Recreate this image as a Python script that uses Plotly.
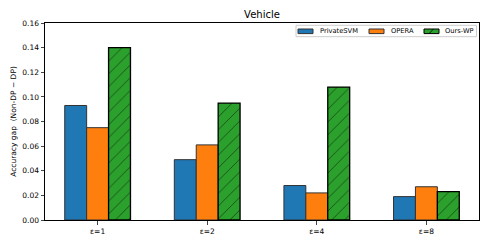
import plotly.graph_objects as go

categories = ["ε=1", "ε=2", "ε=4", "ε=8"]
series_names = ["PrivateSVM", "OPERA", "Ours-WP"]
private_svm = [0.093, 0.049, 0.028, 0.019]
opera = [0.075, 0.061, 0.022, 0.027]
ours_wp = [0.140, 0.095, 0.108, 0.023]
yticks = [0.00, 0.02, 0.04, 0.06, 0.08, 0.10, 0.12, 0.14, 0.16]

colors = ["#1f77b4", "#ff7f0e", "#2ca02c"]

W, H = 488, 244
L, R, T, B = 45, 9, 23, 24
PW, PH = W - L - R, H - T - B


def px(xp):
    return (xp - L) / PW


def py(yp):
    return (H - B - yp) / PH


xs = list(range(len(categories)))
w = 0.2
fig = go.Figure()
fig.add_trace(go.Bar(x=[x - w for x in xs], y=private_svm, width=w, name=series_names[0],
                     marker=dict(color=colors[0], line=dict(color="#333333", width=1))))
fig.add_trace(go.Bar(x=xs, y=opera, width=w, name=series_names[1],
                     marker=dict(color=colors[1], line=dict(color="#333333", width=1))))
fig.add_trace(go.Bar(x=[x + w for x in xs], y=ours_wp, width=w, name=series_names[2],
                     marker=dict(color=colors[2], line=dict(color="black", width=1.3),
                                 pattern=dict(shape="/", fgcolor="black", bgcolor=colors[2],
                                              size=9, solidity=0.1))))

# compact legend (matplotlib style) drawn in paper coordinates
shapes = [dict(type="rect", xref="paper", yref="paper", x0=px(296), x1=px(476.5),
               y0=py(36.7), y1=py(25.3), line=dict(color="#cccccc", width=1),
               fillcolor="white", layer="above")]
annotations = []
patch_x = [298, 369, 424]
text_x = [318, 389, 443]
for i, name in enumerate(series_names):
    shapes.append(dict(type="rect", xref="paper", yref="paper", x0=px(patch_x[i]),
                       x1=px(patch_x[i] + 15), y0=py(33.6), y1=py(29),
                       fillcolor=colors[i],
                       line=dict(color="black" if i == 2 else "#333333", width=1),
                       layer="above"))
    annotations.append(dict(xref="paper", yref="paper", x=px(text_x[i]), y=py(31.4),
                            text=name, showarrow=False, xanchor="left", yanchor="middle",
                            font=dict(size=6.7, color="black")))
shapes.append(dict(type="line", xref="paper", yref="paper", x0=px(429), x1=px(433.5),
                   y0=py(33.6), y1=py(29), line=dict(color="black", width=0.8), layer="above"))

fig.update_layout(
    width=W, height=H,
    margin=dict(l=L, r=R, t=T, b=B),
    paper_bgcolor="white", plot_bgcolor="white",
    barmode="overlay",
    font=dict(family="DejaVu Sans", size=8, color="black"),
    title=dict(text="Vehicle", x=(L + W - R) / 2 / W, xanchor="center", y=1 - 14 / H,
               yanchor="middle", font=dict(size=10)),
    showlegend=False,
    shapes=shapes,
    annotations=annotations,
)
fig.update_xaxes(range=[-0.48, 3.48], tickvals=xs, ticktext=categories,
                 showline=True, linecolor="black", linewidth=1, mirror=True,
                 ticks="outside", ticklen=3.5, showgrid=False, zeroline=False,
                 tickfont=dict(size=7.5))
fig.update_yaxes(range=[0, 0.16], tickvals=yticks, ticktext=[f"{v:.2f}" for v in yticks],
                 showline=True, linecolor="black", linewidth=1, mirror=True,
                 ticks="outside", ticklen=3.5, showgrid=False, zeroline=False,
                 title=dict(text="Accuracy gap  (Non-DP − DP)", font=dict(size=7.5), standoff=4),
                 tickfont=dict(size=7.5))
fig.write_html("out.html", config={"displayModeBar": False},
               post_script="document.body.style.margin='0';document.body.style.overflow='hidden';")
